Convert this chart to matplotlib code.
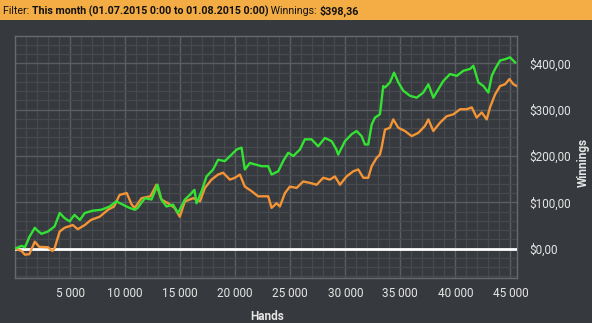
import numpy as np
import matplotlib.pyplot as plt
from matplotlib.ticker import MultipleLocator, FuncFormatter

# hands played and cumulative winnings
green_hands = [0, 600, 900, 1200, 1300, 1800, 2000, 2400, 3000, 3600, 4060, 4500, 4970,
               5400, 5900, 6340, 7060, 7850, 8600, 9200, 9800, 10400, 10880, 11150, 11800,
               12400, 12950, 13300, 13760, 14360, 14820, 15430, 15880, 16300, 16490, 16950,
               17400, 18000, 18450, 19060, 19670, 20130, 20580, 20880, 21340, 21790, 22400,
               23000, 23310, 23910, 24360, 24820, 25280, 25880, 26330, 26940, 27540, 28150,
               28760, 29200, 29360, 29970, 30580, 31030, 31480, 31790, 32090, 32400, 32700,
               33150, 33450, 33610, 34060, 34430, 34820, 35270, 35880, 36490, 37090, 37550,
               38000, 38450, 38910, 39520, 40130, 40730, 41340, 41640, 42090, 42550, 43000,
               43310, 43610, 44060, 44520, 44970, 45430]
green_vals = [0, 6, 3, 19, 25, 45, 40, 32, 37, 48, 77, 66, 59,
              73, 62, 77, 82, 84, 91, 102, 95, 88, 84, 88, 109,
              106, 138, 106, 91, 95, 77, 106, 116, 127, 98, 124,
              156, 171, 192, 189, 203, 214, 218, 171, 185, 182, 178,
              178, 160, 167, 189, 207, 200, 214, 236, 236, 221, 239,
              232, 214, 203, 232, 247, 254, 243, 225, 225, 268, 283,
              290, 351, 348, 359, 380, 359, 341, 330, 326, 337, 355,
              326, 344, 362, 377, 373, 384, 388, 395, 359, 351, 337,
              373, 388, 406, 409, 413, 402]

orange_hands = [0, 600, 900, 1300, 1800, 2200, 3000, 3400, 3600, 4060, 4500, 5250, 5700,
                6340, 6900, 7700, 8450, 9000, 9500, 10150, 10600, 10880, 11500, 12300,
                12850, 13300, 13900, 14500, 14970, 15430, 16200, 16800, 17250, 17850, 18450,
                18900, 19520, 19970, 20430, 20880, 21500, 22090, 22400, 23000, 23310, 23760,
                24060, 24520, 24970, 25580, 26180, 26790, 27400, 28000, 28610, 29060, 29520,
                30120, 30730, 31180, 31640, 32090, 32400, 32850, 33150, 33300, 33610, 34060,
                34360, 34820, 35420, 36030, 36640, 37240, 37550, 38000, 38610, 39220, 39820,
                40430, 41040, 41490, 41940, 42400, 42850, 43150, 43610, 44060, 44520, 44910,
                45270, 45580]
orange_vals = [0, -5, -13, -12, 15, 4, 3, -5, 1, 37, 45, 51, 42,
               51, 62, 69, 84, 91, 116, 120, 95, 88, 109, 113,
               138, 106, 98, 88, 69, 102, 109, 102, 131, 149, 160,
               164, 149, 153, 160, 134, 124, 113, 113, 113, 88, 98,
               91, 120, 134, 131, 145, 142, 138, 153, 149, 156, 138,
               156, 167, 171, 153, 153, 178, 196, 203, 218, 257, 261,
               279, 261, 254, 243, 250, 265, 279, 254, 272, 286, 290,
               301, 301, 305, 283, 294, 279, 305, 333, 351, 355, 366,
               355, 351]

x_major = [5000, 10000, 15000, 20000, 25000, 30000, 35000, 40000, 45000]
y_major = [0, 100, 200, 300, 400]

bg = '#36393d'
plt.rcParams['font.family'] = ['Roboto', 'DejaVu Sans']

fig = plt.figure(figsize=(5.92, 3.23), dpi=100, facecolor=bg)
ax = fig.add_axes([0.0253, 0.1384, 0.848, 0.750])
ax.set_facecolor(bg)

ax.set_xlim(0, 45600)
ax.set_ylim(-64, 459)
ax.set_xticks(x_major)
ax.set_yticks(y_major)
ax.xaxis.set_minor_locator(MultipleLocator(1000))
ax.yaxis.set_minor_locator(MultipleLocator(20))
ax.grid(which='major', color='#5a5d61', lw=1.0)
ax.grid(which='minor', color='#46494d', lw=0.9)
ax.set_axisbelow(True)
for s in ax.spines.values():
    s.set_color('#66696d')
    s.set_linewidth(1.0)

ax.xaxis.set_major_formatter(FuncFormatter(lambda v, p: f'{int(v):,}'.replace(',', ' ')))
ax.yaxis.set_major_formatter(FuncFormatter(lambda v, p: f'${v:.2f}'.replace('.', ',')))
ax.yaxis.tick_right()
ax.tick_params(which='both', length=0, colors='#e6e6e6', labelsize=8.5)
ax.tick_params(axis='y', pad=9)
ax.tick_params(axis='x', pad=6)

ax.axhline(0, color='white', lw=2, zorder=3)
ax.plot(orange_hands, orange_vals, color='#f39436', lw=1.7, zorder=4)
ax.plot(green_hands, green_vals, color='#33e233', lw=1.7, zorder=5)

fig.text(267 / 592, 1 - 316 / 323, 'Hands', color='#e6e6e6', fontsize=8.5,
         fontweight='bold', ha='center', va='center')
fig.text(583 / 592, 1 - 162 / 323, 'Winnings', color='#e6e6e6', fontsize=8.5,
         fontweight='bold', rotation=90, ha='center', va='center')

# header bar
fig.patches.append(plt.Rectangle((0, 1 - 20 / 323), 1, 20 / 323, transform=fig.transFigure,
                                 facecolor='#f4ad45', edgecolor='none', zorder=0))
parts = [('Filter: ', 'normal'), ('This month (01.07.2015 0:00 to 01.08.2015 0:00)', 'bold'),
         (' Winnings: ', 'normal'), ('$398,36', 'bold')]
renderer = fig.canvas.get_renderer()
x = 3 / 592
for txt, w in parts:
    t = fig.text(x, 1 - 11 / 323, txt, color='#111111', fontsize=7.7, fontweight=w,
                 ha='left', va='center')
    bb = t.get_window_extent(renderer)
    x += bb.width / fig.bbox.width

fig.savefig('out.png', dpi=100, facecolor=bg)
